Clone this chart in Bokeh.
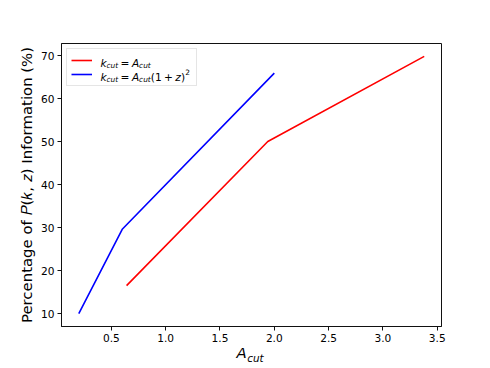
from bokeh.plotting import figure
from bokeh.models import (Range1d, FixedTicker, Legend, LegendItem, Label,
                          LinearAxis)
from bokeh.embed import file_html
from bokeh.resources import INLINE

# ---- data ----
red_x = [0.64, 1.94, 3.38]
red_y = [16.5, 50.0, 69.8]
blue_x = [0.2, 0.6, 2.0]
blue_y = [10.0, 29.6, 65.9]
x_ticks = [0.5, 1.0, 1.5, 2.0, 2.5, 3.0, 3.5]
y_ticks = [10, 20, 30, 40, 50, 60, 70]
y_label = "Percentage of \U0001D443(\U0001D458, \U0001D467) Information (%)"

# ---- layout ----
W, H = 474, 366
FL, FR, FT, FB = 61, 441, 43, 327          # frame edges on the canvas (px)
X0, X1 = 0.041, 3.539
Y0, Y1 = 7.01, 72.79
FONT = "DejaVu Sans"

p = figure(width=W, height=H, output_backend="svg", toolbar_location=None,
           x_range=Range1d(X0, X1), y_range=Range1d(Y0, Y1),
           min_border_left=FL, min_border_right=W - FR,
           min_border_top=FT, min_border_bottom=H - FB)
p.background_fill_color = "white"
p.border_fill_color = "white"
p.outline_line_color = "#111111"
p.outline_line_width = 1
p.grid.visible = False

for ax in (p.xaxis, p.yaxis):
    ax.axis_line_color = "#111111"
    ax.major_tick_line_color = "#111111"
    ax.major_tick_out = 4
    ax.major_tick_in = 0
    ax.minor_tick_line_color = None
    ax.major_label_text_font = FONT
    ax.major_label_text_font_size = "10.6px"
    ax.major_label_text_color = "black"
    ax.major_label_standoff = 3

p.xaxis.ticker = FixedTicker(ticks=x_ticks)
p.yaxis.ticker = FixedTicker(ticks=y_ticks)
p.xaxis.major_label_overrides = {t: f"{t:.1f}" for t in x_ticks}

p.yaxis.axis_label = y_label
p.yaxis.axis_label_text_font = FONT
p.yaxis.axis_label_text_font_style = "normal"
p.yaxis.axis_label_text_font_size = "14.9px"
p.yaxis.axis_label_text_color = "black"
p.yaxis.axis_label_standoff = 2

r_red = p.line(red_x, red_y, line_color="red", line_width=1.6)
r_blue = p.line(blue_x, blue_y, line_color="blue", line_width=1.6)

legend = Legend(items=[LegendItem(label=" ", renderers=[r_red]),
                       LegendItem(label=" ", renderers=[r_blue])],
                location="top_left", margin=5, padding=4, spacing=0,
                glyph_width=21, glyph_height=14, label_height=14,
                label_width=91, label_standoff=9,
                border_line_color="#cccccc", border_line_width=1,
                background_fill_alpha=0.0,
                label_text_font_size="10.6px")
p.add_layout(legend)


def dx(cx):
    return X0 + (cx - FL) * (X1 - X0) / (FR - FL)


def dy(cy):
    return Y1 - (cy - FT) * (Y1 - Y0) / (FB - FT)


def piece(x, y, text, size, italic=True):
    p.add_layout(Label(x=x, y=y, text=text, text_font=FONT,
                       text_font_style="italic" if italic else "normal",
                       text_font_size=size, text_color="black",
                       text_align="left", text_baseline="alphabetic",
                       level="overlay"))


# legend texts (mathtext-like composition)
for base in (62.5, 76.5):
    piece(dx(100.0), dy(base), "k", "10.6px")
    piece(dx(106.0), dy(base + 2.2), "cut", "7.4px")
    piece(dx(120.1), dy(base), "=", "10.6px", italic=False)
    piece(dx(131.4), dy(base), "A", "10.6px")
    piece(dx(138.6), dy(base + 2.2), "cut", "7.4px")
row2 = 76.5
piece(dx(150.3), dy(row2), "(1", "10.6px", italic=False)
piece(dx(163.5), dy(row2), "+", "10.6px", italic=False)
piece(dx(174.8), dy(row2), "z", "10.6px")
piece(dx(180.4), dy(row2), ")", "10.6px", italic=False)
piece(dx(184.8), dy(row2 - 4.5), "2", "7.4px", italic=False)


# x-axis label A_cut, built from two label-only axes below the main one
def label_axis(xpix, text, size, standoff):
    pos = round(dx(xpix), 4)
    ax = LinearAxis(ticker=FixedTicker(ticks=[pos]),
                    major_label_overrides={pos: text},
                    axis_line_color=None, major_tick_line_color=None,
                    minor_tick_line_color=None, major_tick_out=0,
                    major_tick_in=0,
                    major_label_text_font=FONT,
                    major_label_text_font_style="italic",
                    major_label_text_font_size=size,
                    major_label_text_color="black",
                    major_label_standoff=standoff)
    p.add_layout(ax, "below")


label_axis(241.0, "A", "14.9px", -1)
label_axis(255.0, "cut", "10.4px", -13)

open("out.html", "w").write(file_html(p, INLINE))
